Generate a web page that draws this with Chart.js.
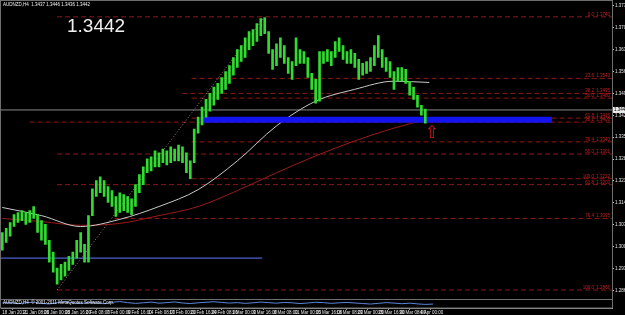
<!DOCTYPE html>
<html>
<head>
<meta charset="utf-8">
<script src="https://cdn.jsdelivr.net/npm/chart.js@4.4.0/dist/chart.umd.min.js"></script>
<style>
    html, body { margin: 0; padding: 0; background: #000; }
    #wrap { width: 625px; height: 315px; }
</style>
</head>
<body>
<div id="wrap"><canvas id="Chart1" width="625" height="315"></canvas></div>
<script>
// AUDNZD H4, 18 Jan - 4 Apr 2011. one entry = 3 H4 bars
const barStep = 3;
const barHigh = [
    1.3050, 1.3063, 1.3082, 1.3107, 1.3114, 1.3120, 1.3114, 1.3120, 1.3133, 1.3107,
    1.3088, 1.3076, 1.3025, 1.2987, 1.2936, 1.2948, 1.2955, 1.2974, 1.2987, 1.3025,
    1.3050, 1.3012, 1.3104, 1.3190, 1.3216, 1.3228, 1.3216, 1.3197, 1.3184, 1.3165,
    1.3177, 1.3171, 1.3165, 1.3158, 1.3203, 1.3235, 1.3260, 1.3286, 1.3292, 1.3311,
    1.3305, 1.3317, 1.3311, 1.3324, 1.3317, 1.3330, 1.3324, 1.3305, 1.3279, 1.3381,
    1.3419, 1.3451, 1.3476, 1.3495, 1.3515, 1.3527, 1.3546, 1.3565, 1.3584, 1.3610,
    1.3635, 1.3648, 1.3673, 1.3693, 1.3699, 1.3718, 1.3734, 1.3737, 1.3693, 1.3635,
    1.3654, 1.3673, 1.3648, 1.3610, 1.3597, 1.3673, 1.3635, 1.3629, 1.3610, 1.3559,
    1.3540, 1.3629, 1.3629, 1.3635, 1.3629, 1.3661, 1.3673, 1.3648, 1.3629, 1.3635,
    1.3623, 1.3604, 1.3591, 1.3597, 1.3610, 1.3648, 1.3680, 1.3635, 1.3610, 1.3597,
    1.3565, 1.3578, 1.3578, 1.3572, 1.3534, 1.3515, 1.3489, 1.3457, 1.3445,
];
const barLow = [
    1.2993, 1.3018, 1.3038, 1.3069, 1.3082, 1.3088, 1.3076, 1.3082, 1.3095, 1.3050,
    1.3025, 1.3012, 1.2955, 1.2923, 1.2885, 1.2898, 1.2910, 1.2929, 1.2948, 1.2968,
    1.2987, 1.2955, 1.2955, 1.3104, 1.3165, 1.3177, 1.3165, 1.3146, 1.3133, 1.3101,
    1.3114, 1.3120, 1.3114, 1.3107, 1.3133, 1.3177, 1.3203, 1.3241, 1.3247, 1.3260,
    1.3260, 1.3273, 1.3266, 1.3273, 1.3279, 1.3279, 1.3273, 1.3241, 1.3222, 1.3273,
    1.3368, 1.3394, 1.3419, 1.3438, 1.3457, 1.3476, 1.3495, 1.3508, 1.3527, 1.3553,
    1.3578, 1.3597, 1.3610, 1.3635, 1.3648, 1.3661, 1.3680, 1.3686, 1.3623, 1.3572,
    1.3584, 1.3610, 1.3591, 1.3559, 1.3540, 1.3584, 1.3591, 1.3591, 1.3546, 1.3508,
    1.3464, 1.3470, 1.3591, 1.3597, 1.3584, 1.3610, 1.3629, 1.3604, 1.3591, 1.3591,
    1.3578, 1.3540, 1.3553, 1.3559, 1.3565, 1.3584, 1.3610, 1.3578, 1.3565, 1.3546,
    1.3508, 1.3534, 1.3534, 1.3527, 1.3489, 1.3476, 1.3451, 1.3425, 1.3400,
];

// moving averages, sampled every 30 bars
const maBars = [0, 30, 60, 90, 120, 150, 180, 210, 240, 270, 300, 327];
const maFast = [1.3130, 1.3104, 1.3069, 1.3092, 1.3133, 1.3187, 1.3279, 1.3391, 1.3470, 1.3508, 1.3534, 1.3530];
const maSlow = [1.3095, 1.3085, 1.3073, 1.3079, 1.3104, 1.3133, 1.3184, 1.3241, 1.3295, 1.3343, 1.3384, 1.3413];

const priceTicks = [
    1.3775, 1.3740, 1.3705, 1.3670, 1.3635, 1.3600, 1.3565, 1.3530, 1.3495,
    1.3460, 1.3425, 1.3390, 1.3355, 1.3320, 1.3285, 1.3250, 1.3215, 1.3180,
    1.3145, 1.3110, 1.3075, 1.3040, 1.3005, 1.2970, 1.2935, 1.2900, 1.2865,
];
const timeLabels = [
    "18 Jan 2011", "21 Jan 08:00", "26 Jan 00:00", "28 Jan 16:00", "2 Feb 08:00",
    "7 Feb 00:00", "9 Feb 16:00", "14 Feb 08:00", "17 Feb 00:00", "21 Feb 16:00",
    "24 Feb 08:00", "1 Mar 00:00", "3 Mar 16:00", "8 Mar 08:00", "11 Mar 00:00",
    "15 Mar 16:00", "18 Mar 08:00", "23 Mar 00:00", "25 Mar 16:00", "30 Mar 08:00",
    "4 Apr 00:00",
];
const labelEvery = 16;
const lastPrice = 1.3442;

// fibonacci levels (price, name, first bar)
const fibLevels = [1.3740, 1.3543, 1.3495, 1.3480, 1.3416, 1.3403, 1.3340, 1.3301, 1.3222, 1.3203, 1.3095, 1.2866];
const fibNames = ["0.0", "23.6", "38.2", "50.0", "61.8", "38.2", "76.4", "50.0", "100.0", "61.8", "76.4", "100.0"];
const fibStart = [42, 145, 138, 145, 145, 21, 145, 42, 145, 42, 86, 42];

const zone = { price: 1.3411, from: 152, to: 421 };
const support = { price: 1.2968, from: -1, to: 199 };
const trend = { fromBar: 42, fromPrice: 1.2866, toBar: 201, toPrice: 1.3740 };
const arrowAt = { bar: 329, price: 1.3368 };

// lower indicator window, every 6 bars
const oscStep = 6;
const oscValues = [
    55, 62, 48, 58, 66, 52, 45, 60, 70, 58, 50, 62, 55, 48, 64, 72, 60, 52, 58, 66,
    54, 60, 68, 56, 50, 58, 64, 70, 62, 55, 60, 52, 58, 66, 60, 54, 62, 58, 50, 56,
    64, 60, 52, 58, 62, 56, 50, 44, 52, 60, 55, 48, 54, 46, 40, 44,
];

const xMin = -1;
const xMax = 467;

Chart.defaults.font.family = "'Liberation Sans', Arial, sans-serif";
Chart.defaults.color = "#e0e0e0";

const hline = (price, from, to, color, width, dash, order) => ({
    type: "line",
    data: [{ x: from, y: price }, { x: to, y: price }],
    borderColor: color,
    borderWidth: width,
    borderDash: dash,
    pointRadius: 0,
    order: order,
});

const fibSets = fibLevels.map((lv, i) => hline(lv, fibStart[i], xMax, "#8f1717", 1, [5, 3], 7));

const mtDecor = {
    id: "mtDecor",
    beforeDraw(chart) {
        const ctx = chart.ctx;
        ctx.save();
        ctx.fillStyle = "#000";
        ctx.fillRect(0, 0, chart.width, chart.height);
        ctx.restore();
    },
    afterDraw(chart) {
        const { ctx, chartArea: a, scales } = chart;
        const y = scales.y, y2 = scales.y2, x = scales.x;
        ctx.save();
        // frames
        ctx.strokeStyle = "#6e6e6e";
        ctx.lineWidth = 1;
        ctx.strokeRect(0.5, 0.5, a.right, y2.bottom - 0.5);
        ctx.beginPath();
        ctx.moveTo(0, Math.round(y.bottom) + 0.5);
        ctx.lineTo(a.right, Math.round(y.bottom) + 0.5);
        ctx.stroke();

        // fib labels
        ctx.font = "4.5px 'Liberation Sans'";
        ctx.fillStyle = "#c82020";
        ctx.textBaseline = "bottom";
        ctx.textAlign = "right";
        fibLevels.forEach((lv, i) => {
            const py = y.getPixelForValue(lv);
            ctx.fillText(fibNames[i], a.right - 18, py);
            ctx.fillText(lv.toFixed(4), a.right - 2, py);
        });

        // last price box on axis
        const py = y.getPixelForValue(lastPrice);
        ctx.fillStyle = "#ececec";
        ctx.fillRect(a.right + 1, py - 3, 12, 6);
        ctx.fillStyle = "#000";
        ctx.textAlign = "left";
        ctx.textBaseline = "middle";
        ctx.fillText(lastPrice.toFixed(4), a.right + 2, py);

        // header texts
        ctx.fillStyle = "#f0f0f0";
        ctx.textBaseline = "top";
        ctx.fillText("AUDNZD,H4  1.3437 1.3446 1.3436 " + lastPrice.toFixed(4), 3, 3);
        ctx.fillText("AUDNZD,H4  \u00a9 2001-2011 MetaQuotes Software Corp.", 3, y2.top + 1);
        ctx.font = "19px 'Liberation Sans'";
        ctx.textBaseline = "alphabetic";
        ctx.fillText(lastPrice.toFixed(4), 67, 32);

        // arrow
        ctx.font = "17px 'DejaVu Sans'";
        ctx.fillStyle = "#d01818";
        ctx.textAlign = "center";
        ctx.textBaseline = "middle";
        ctx.fillText("\u21e7", x.getPixelForValue(arrowAt.bar), y.getPixelForValue(arrowAt.price));
        ctx.restore();
    },
};

const ctx1 = document.getElementById("Chart1").getContext("2d");
const chart1 = new Chart(ctx1, {
    type: "line",
    data: {
        datasets: [
            {
                type: "bar",
                label: "AUDNZD",
                data: barHigh.map((h, i) => ({ x: i * barStep, y: [barLow[i], h] })),
                backgroundColor: "#30dc30",
                barThickness: 2,
                order: 1,
            },
            {
                label: "MA fast",
                data: maBars.map((b, i) => ({ x: b, y: maFast[i] })),
                borderColor: "#c8c8c8",
                borderWidth: 1,
                pointRadius: 0,
                cubicInterpolationMode: "monotone",
                order: 3,
            },
            {
                label: "MA slow",
                data: maBars.map((b, i) => ({ x: b, y: maSlow[i] })),
                borderColor: "#9a1a1a",
                borderWidth: 1,
                pointRadius: 0,
                cubicInterpolationMode: "monotone",
                order: 3,
            },
            hline(zone.price, zone.from, zone.to, "#1414f0", 6, [], 2),
            hline(zone.price, zone.from, zone.to, "#6a6aff", 1, [4, 3], 2),
            hline(lastPrice, xMin, xMax, "#8a8a8a", 1, [], 5),
            hline(support.price, support.from, support.to, "#6078ff", 1, [], 4),
            {
                label: "trend",
                data: [{ x: trend.fromBar, y: trend.fromPrice }, { x: trend.toBar, y: trend.toPrice }],
                borderColor: "#b07a7a",
                borderWidth: 1,
                borderDash: [1, 2],
                pointRadius: 0,
                order: 6,
            },
            ...fibSets,
            {
                label: "osc",
                yAxisID: "y2",
                data: oscValues.map((v, i) => ({ x: i * oscStep, y: v })),
                borderColor: "#5a86d8",
                borderWidth: 1,
                pointRadius: 0,
                order: 1,
            },
        ],
    },
    options: {
        responsive: false,
        animation: false,
        devicePixelRatio: 1,
        layout: {
            padding: { top: 2, left: 1, right: 0, bottom: 0 },
        },
        plugins: {
            legend: { display: false },
            tooltip: { enabled: false },
            title: { display: false },
        },
        scales: {
            x: {
                type: "linear",
                min: xMin,
                max: xMax,
                offset: false,
                afterBuildTicks: (scale) => {
                    scale.ticks = timeLabels.map((t, i) => ({ value: i * labelEvery }));
                },
                afterFit: (scale) => {
                    scale.height = 7;
                },
                ticks: {
                    autoSkip: false,
                    maxRotation: 0,
                    align: "start",
                    padding: 0,
                    color: "#e6e6e6",
                    font: { size: 4.5 },
                    callback: (v, i) => timeLabels[i],
                },
                grid: {
                    drawOnChartArea: false,
                    drawTicks: true,
                    tickLength: 2,
                    color: "#9a9a9a",
                },
                border: { display: true, color: "#9a9a9a" },
            },
            y: {
                position: "right",
                stack: "price",
                stackWeight: 33,
                min: 1.2837,
                max: 1.3782,
                afterBuildTicks: (scale) => {
                    scale.ticks = priceTicks.map((v) => ({ value: v }));
                },
                afterFit: (scale) => {
                    scale.width = 13;
                },
                ticks: {
                    padding: 1,
                    color: "#e6e6e6",
                    font: { size: 4.5 },
                    callback: (v) => v.toFixed(4),
                },
                grid: {
                    drawOnChartArea: false,
                    drawTicks: true,
                    tickLength: 2,
                    color: "#c8c8c8",
                },
                border: { display: true, color: "#c8c8c8" },
            },
            y2: {
                position: "right",
                stack: "price",
                stackWeight: 1,
                min: 0,
                max: 100,
                afterFit: (scale) => {
                    scale.width = 13;
                },
                ticks: { display: false },
                grid: { display: false },
                border: { display: true, color: "#c8c8c8" },
            },
        },
    },
    plugins: [mtDecor],
});
</script>
</body>
</html>
